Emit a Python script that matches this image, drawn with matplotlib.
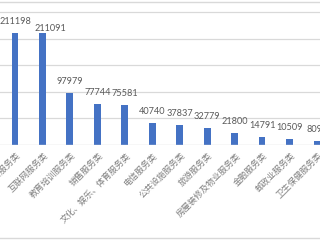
import matplotlib
matplotlib.use("Agg")
import matplotlib.pyplot as plt
from matplotlib.transforms import offset_copy
from matplotlib.lines import Line2D

plt.rcParams['font.family'] = ['Noto Sans CJK SC', 'DejaVu Sans']

categories = ["生活、社会服务类", "互联网服务类", "教育培训服务类", "销售服务类",
              "文化、娱乐、体育服务类", "电信服务类", "公共设施服务类", "旅游服务类",
              "房屋装修及物业服务类", "金融服务类", "邮政业服务类", "卫生保健服务类"]
values = [211198, 211091, 97979, 77744, 75581, 40740, 37837, 32779,
          21800, 14791, 10509, 8090]

W, H = 320, 240
fig = plt.figure(figsize=(W / 100, H / 100), dpi=100)
base_px = 145
ax = fig.add_axes([0, (H - base_px) / H, 1, base_px / H])

x = list(range(len(categories)))
bar_color = "#4472C4"
ax.bar(x, values, width=0.25, color=bar_color, zorder=3)

spacing = 27.45
first = 15
ax.set_xlim(-first / spacing, (W - first) / spacing)
ax.set_ylim(0, 250000 * base_px / 133)

for yv in [50000, 100000, 150000, 200000, 250000]:
    ax.axhline(yv, color="#d9d9d9", lw=0.9, zorder=1)
ax.axhline(0, color="#d9d9d9", lw=1.0, zorder=4)

for s in ax.spines.values():
    s.set_visible(False)
ax.set_xticks([])
ax.set_yticks([])

for i, (xi, v) in enumerate(zip(x, values)):
    dx, dy = (0, 5)
    if i == 1:
        dx, dy = (5.5, 0)
    ax.annotate(str(v), (xi, v), xytext=(dx, dy), textcoords="offset points",
                ha="center", va="bottom", fontsize=6.6, color="#595959",
                family=["Lato", "DejaVu Sans"])

trans = offset_copy(ax.get_xaxis_transform(), fig=fig, x=4, y=-9, units="dots")
for xi, c in zip(x, categories):
    ax.text(xi, 0, c, transform=trans, rotation=45, rotation_mode="anchor",
            ha="right", va="center", fontsize=6.2, color="#7f7f7f")

fig.add_artist(Line2D([0, 1], [1 - 1.5 / H, 1 - 1.5 / H], transform=fig.transFigure,
                      color="#d9d9d9", lw=1.0))
fig.add_artist(Line2D([0, 1], [2.5 / H, 2.5 / H], transform=fig.transFigure,
                      color="#d9d9d9", lw=1.0))

fig.savefig("out.png", dpi=100, facecolor="white")
